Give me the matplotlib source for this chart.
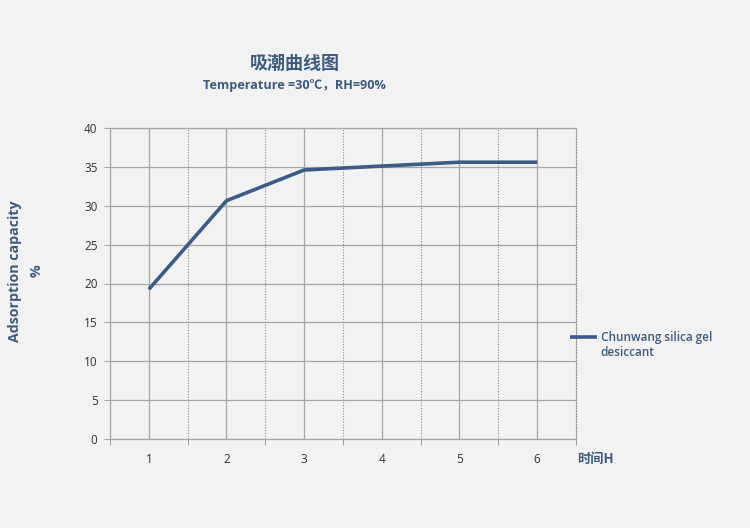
import matplotlib
matplotlib.use("Agg")
import matplotlib.pyplot as plt
import numpy as np

plt.rcParams['font.family'] = ['Open Sans', 'Noto Sans CJK SC', 'DejaVu Sans']

hours = [1, 2, 3, 4, 5, 6]
capacity = [19.25, 30.65, 34.6, 35.1, 35.6, 35.6]
y_ticks = [0, 5, 10, 15, 20, 25, 30, 35, 40]

BG = '#F2F2F2'
LINE = '#3C5B86'
TEXT = '#3D5A80'
GRID = '#A6A6A6'

fig = plt.figure(figsize=(7.5, 5.28), dpi=100, facecolor=BG)
ax = fig.add_axes([110 / 750, 89 / 528, 466 / 750, 311 / 528], facecolor=BG)

x = np.arange(len(hours))
ax.plot(x, capacity, color=LINE, linewidth=2.6, solid_capstyle='butt',
        label='Chunwang silica gel', zorder=3)

ax.set_xlim(-0.5, len(hours) - 0.5)
ax.set_ylim(0, 40)
ax.set_yticks(y_ticks)
ax.set_xticks(x)
ax.set_xticklabels([str(h) for h in hours])
ax.set_xticks(np.arange(-0.5, len(hours), 1.0), minor=True)

ax.grid(axis='y', which='major', color=GRID, linewidth=0.9)
ax.grid(axis='x', which='major', color=GRID, linewidth=0.9)
ax.grid(axis='x', which='minor', color='#8C8C8C', linewidth=0.8, linestyle=(0, (1, 1.5)))

ax.tick_params(axis='y', which='major', length=4, color=GRID, labelsize=8.5,
               labelcolor='#333333', pad=5)
ax.tick_params(axis='x', which='major', length=0, labelsize=8.5,
               labelcolor='#333333', pad=10)
ax.tick_params(axis='x', which='minor', length=4, color='#8C8C8C')

for side in ('left', 'bottom', 'top'):
    ax.spines[side].set_color(GRID)
    ax.spines[side].set_linewidth(0.9)
ax.spines['right'].set_color('#8C8C8C')
ax.spines['right'].set_linestyle((0, (1, 1.5)))
ax.spines['right'].set_linewidth(0.8)

fig.text(295 / 750, 1 - 63 / 528, '吸潮曲线图', ha='center', va='center',
         fontsize=13, fontweight='bold', color=TEXT,
         family=['Noto Sans CJK SC', 'DejaVu Sans'])
fig.text(294 / 750, 1 - 86 / 528, 'Temperature =30℃，RH=90%', ha='center',
         va='center', fontsize=9.1, fontweight='bold', color=TEXT,
         family=['Open Sans', 'Noto Sans CJK SC', 'DejaVu Sans'])

fig.text(15 / 750, 1 - 271 / 528, 'Adsorption capacity', rotation=90,
         ha='center', va='center', fontsize=10.2, fontweight='bold', color=TEXT)
fig.text(37 / 750, 1 - 271 / 528, '%', rotation=90,
         ha='center', va='center', fontsize=10.2, fontweight='bold', color=TEXT)

fig.text(577 / 750, 1 - 459 / 528, '时间H', ha='left', va='center',
         fontsize=9.5, fontweight='bold', color=TEXT,
         family=['Noto Sans CJK SC', 'DejaVu Sans'])

leg = ax.legend(loc='center left', bbox_to_anchor=((570 - 110) / 466, (439 - 338) / 311),
                frameon=False, handlelength=2.3, handletextpad=0.35,
                borderaxespad=0, borderpad=0,
                prop={'size': 8.5, 'weight': 'semibold'})
for t in leg.get_texts():
    t.set_color(TEXT)
fig.text(600 / 750, 1 - 353 / 528, 'desiccant', ha='left', va='center',
         fontsize=8.5, fontweight='semibold', color=TEXT)

fig.savefig('out.png', dpi=100, facecolor=BG)
